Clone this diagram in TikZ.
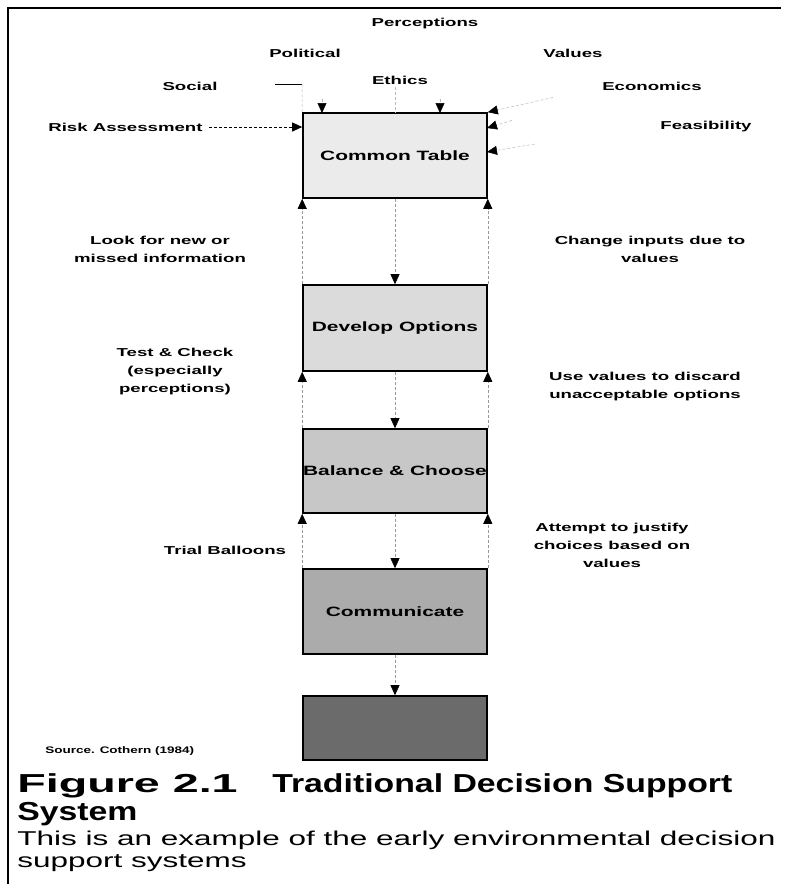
\documentclass[tikz,border=0pt]{standalone}
\usepackage{fontspec}
\setmainfont{Liberation Sans}
\usetikzlibrary{arrows.meta}
\newcommand{\boxtxt}[1]{\scalebox{1.55}[1]{\bfseries\fontsize{13.5}{15}\selectfont #1}}
\begin{document}
\begin{tikzpicture}[x=1pt,y=-1pt,
  lbl/.style={font=\bfseries\fontsize{11.5}{18}\selectfont, xscale=1.62, align=center, inner sep=0pt},
  srctxt/.style={font=\bfseries\fontsize{9.5}{11}\selectfont, xscale=1.42, inner sep=0pt},
  captxt/.style={font=\bfseries\fontsize{26}{30}\selectfont, xscale=1.3, inner sep=0pt},
  subtxt/.style={font=\fontsize{20}{24}\selectfont, xscale=1.575, inner sep=0pt},
  box/.style={draw=black, line width=1.6pt, minimum width=184pt, inner sep=0pt},
  conn/.style={densely dashed, draw=black!40, line width=0.6pt},
  inconn/.style={densely dashed, draw=black!28, line width=0.5pt},
  tipA/.style={-{Triangle[length=10pt,width=9pt,color=black]}},
]
\useasboundingbox (0,0) rectangle (787,884);
% frame
\draw[line width=2.2pt] (7,8) -- (781,8);
\draw[line width=1.1pt] (8,8) -- (8,884);

% input labels
\node[lbl] (perc) at (425,24) {Perceptions};
\node[lbl] (pol) at (305,53) {Political};
\node[lbl] (val) at (573,53) {Values};
\node[lbl] (soc) at (190,86) {Social};
\node[lbl] (eth) at (400,80) {Ethics};
\node[lbl] (eco) at (652,86) {Economics};
\node[lbl, anchor=west] (risk) at (48,127) {Risk Assessment};
\node[lbl] (feas) at (706,127) {Feasibility};

% boxes
\node[box, fill=black!8, minimum height=85pt] (ct) at (395,155.5) {\boxtxt{Common Table}};
\node[box, fill=black!14, minimum height=86pt] (do) at (395,328) {\boxtxt{Develop Options}};
\node[box, fill=black!22, minimum height=84pt] (bc) at (395,471) {\boxtxt{Balance \& Choose}};
\node[box, fill=black!33, minimum height=85pt] (cm) at (395,611.5) {\boxtxt{Communicate}};
\node[box, fill=black!58, minimum height=64pt] (act) at (395,728) {};

% input connectors
\coordinate (socend) at (302,84);
\draw[line width=1pt] (soc.east) ++(57,-2) -- (socend);
\draw[inconn] (socend) -- (ct.north west);
\draw[inconn] (eth.south) ++(-5,3) -- (395,113);
\coordinate (polin) at (322,113);
\coordinate (percin) at (440,113);
\coordinate (ecoin) at (487,128);
\coordinate (feasin) at (487,152);
\draw[inconn, tipA] (322,99) -- (polin);
\draw[inconn, tipA] (440,99) -- (percin);
\draw[inconn, tipA] (val.south) ++(-20,40) -- (ct.north east);
\draw[inconn, tipA] (eco.south west) ++(-90,30) -- (ecoin);
\draw[inconn, tipA] (feas.west) ++(-125,17) -- (feasin);
\draw[densely dashed, line width=0.8pt, tipA] (risk.east) ++(6,0) -- (ct.west |- risk.east);

% flow connectors
\draw[conn, tipA] (ct.south) -- (do.north);
\draw[conn, tipA] (do.south) -- (bc.north);
\draw[conn, tipA] (bc.south) -- (cm.north);
\draw[conn, tipA] (cm.south) -- (act.north);
% feedback connectors
\draw[conn, tipA] (do.north west) -- (ct.south west);
\draw[conn, tipA] (do.north east) -- (ct.south east);
\draw[conn, tipA] (bc.north west) -- (do.south west);
\draw[conn, tipA] (bc.north east) -- (do.south east);
\draw[conn, tipA] (cm.north west) -- (bc.south west);
\draw[conn, tipA] (cm.north east) -- (bc.south east);

% feedback labels
\node[lbl] (look) at (160,249) {Look for new or\\missed information};
\node[lbl] (chg) at (650,249) {Change inputs due to\\values};
\node[lbl] (test) at (175,372) {Test \& Check\\(especially\\perceptions)};
\node[lbl] (use) at (645,387) {Use values to discard\\unacceptable options};
\node[lbl] (trial) at (225,550) {Trial Balloons};
\node[lbl] (att) at (612,545) {Attempt to justify\\choices based on\\values};

% source and caption
\node[srctxt, anchor=base west] (source) at (45,753) {Source. Cothern (1984)};
\node[captxt, xscale=1.38, anchor=base west] (fig) at (17,792) {Figure 2.1};
\node[captxt, anchor=base west] (title) at (272,792) {Traditional Decision Support};
\node[captxt, anchor=base west] (sys) at (17,820) {System};
\node[subtxt, anchor=base west] (desc1) at (17,845) {This is an example of the early environmental decision};
\node[subtxt, anchor=base west] (desc2) at (17,867) {support systems};
\end{tikzpicture}
\end{document}
